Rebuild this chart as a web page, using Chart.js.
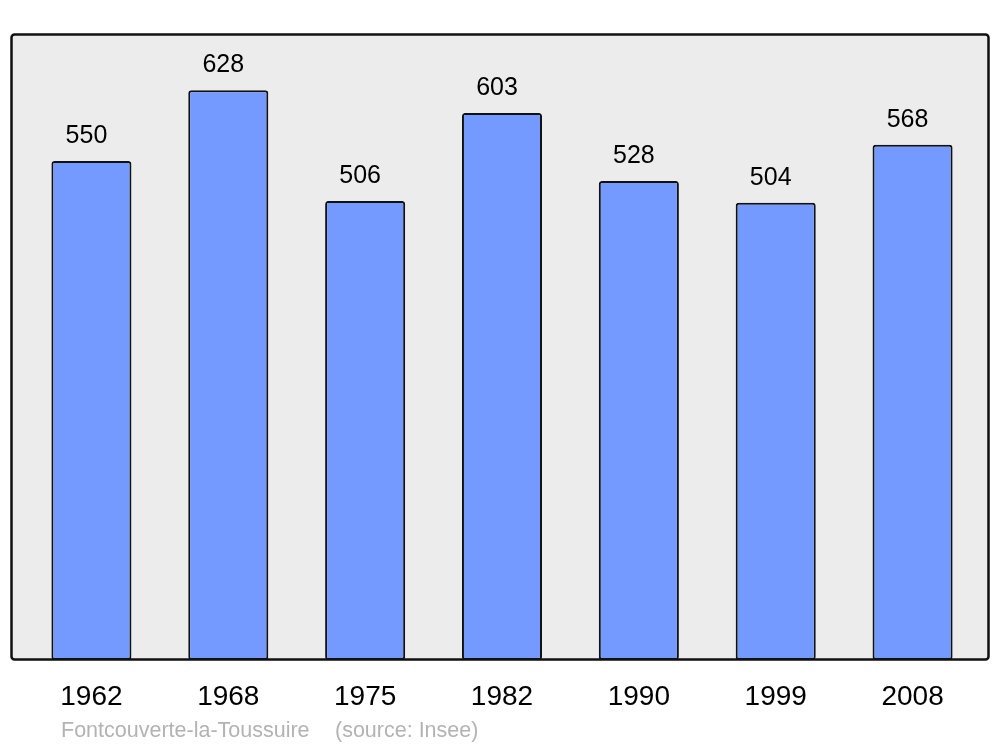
<!DOCTYPE html>
<html>
<head>
<meta charset="utf-8">
<script src="https://cdn.jsdelivr.net/npm/chart.js@4"></script>
<style>
  html, body { margin: 0; padding: 0; background: #fff; }
  #wrap { width: 1000px; height: 747px; }
</style>
</head>
<body>
<div id="wrap"><canvas id="popChart"></canvas></div>
<script>
const years = ['1962', '1968', '1975', '1982', '1990', '1999', '2008'];
const population = [550, 628, 506, 603, 528, 504, 568];
const commune = 'Fontcouverte-la-Toussuire';
const source = '(source: Insee)';

const FONT = '"Liberation Sans", Arial, sans-serif';

// gray panel with black rounded border around the plot
const panel = {
    id: 'panel',
    beforeDatasetsDraw(chart) {
        const c = chart.ctx;
        c.save();
        c.beginPath();
        c.roundRect(11.5, 34.5, 977, 625, 3);
        c.fillStyle = '#ececec';
        c.fill();
        c.restore();
    },
    afterDatasetsDraw(chart) {
        const c = chart.ctx;
        c.save();
        c.beginPath();
        c.roundRect(11.5, 34.5, 977, 625, 3);
        c.lineWidth = 2.5;
        c.strokeStyle = '#111';
        c.stroke();

        // values above bars
        const meta = chart.getDatasetMeta(0);
        c.font = '25px ' + FONT;
        c.fillStyle = '#000';
        c.textAlign = 'center';
        c.textBaseline = 'middle';
        meta.data.forEach((bar, i) => {
            c.fillText(String(population[i]), bar.x - 5, bar.y - 25);
        });

        // footer
        c.font = '21.5px ' + FONT;
        c.fillStyle = '#b3b3b3';
        c.textAlign = 'left';
        c.fillText(commune, 61, 731);
        c.fillText(source, 335, 731);
        c.restore();
    }
};

new Chart(document.getElementById('popChart'), {
    type: 'bar',
    data: {
        labels: years,
        datasets: [{
            data: population,
            backgroundColor: '#7499ff',
            borderColor: '#111',
            borderWidth: 2,
            borderRadius: 3,
            borderSkipped: false,
            barPercentage: 0.585,
            categoryPercentage: 1
        }]
    },
    options: {
        responsive: true,
        maintainAspectRatio: false,
        animation: false,
        layout: { padding: { left: 23, right: 19, top: 34, bottom: 0 } },
        plugins: {
            legend: { display: false },
            tooltip: { enabled: false }
        },
        scales: {
            x: {
                grid: { display: false, drawTicks: false },
                border: { display: false },
                ticks: {
                    color: '#000',
                    font: { size: 28, family: FONT },
                    padding: 20
                },
                afterFit(scale) { scale.height = 87; }
            },
            y: {
                display: false,
                min: 0,
                max: 690
            }
        }
    },
    plugins: [panel]
});
</script>
</body>
</html>
